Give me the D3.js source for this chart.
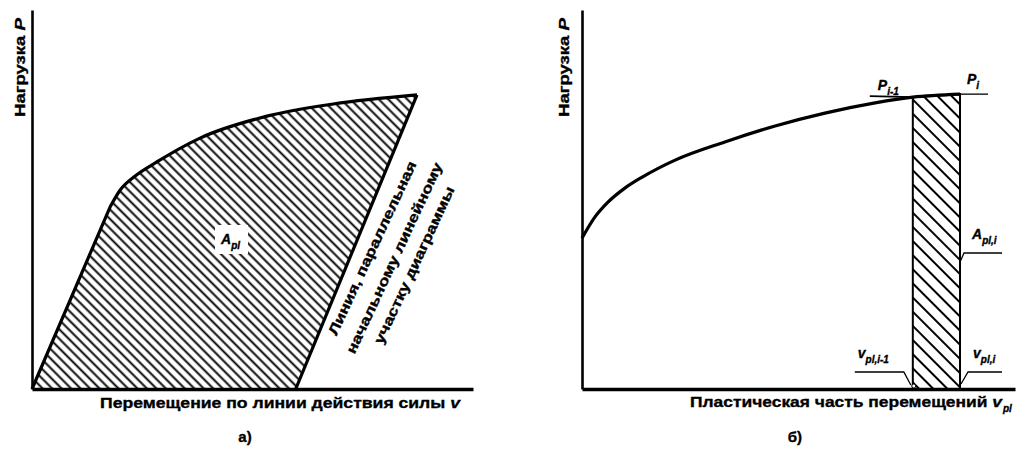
<!DOCTYPE html>
<html>
<head>
<meta charset="utf-8">
<script src="https://cdn.jsdelivr.net/npm/d3@7"></script>
<style>
  html, body { margin: 0; padding: 0; background: #fff; }
  svg { display: block; }
  text { font-family: "Liberation Sans", Arial, sans-serif; font-weight: bold; fill: #000;
         stroke: #000; stroke-width: 0.35px; }
</style>
</head>
<body>
<svg id="chart" width="1020" height="456"></svg>
<script>
// Panel a: full loading curve and unloading line (displacement v, load P)
// the first two points bound the initial linear part of the diagram
const loadV = [0, 17.7, 20.0, 23.4, 28.3, 38.1, 53.3, 68.3, 87.3];
const loadP = [0, 48.0, 52.5, 56.2, 59.9, 66.2, 72.0, 75.2, 77.6];
const unloadV = [87.3, 59.8];
const unloadP = [77.6, 0];

// Panel b: load versus plastic part of displacement
const plasticV = [0, 3.0, 6.0, 9.9, 13.9, 21.5, 33.0, 44.6, 56.1, 67.7, 76.4, 87.3];
const plasticP = [39.8, 45.4, 49.3, 53.0, 55.9, 60.4, 65.2, 69.4, 72.8, 75.5, 77.0, 77.8];
const stepIndex = [10, 11]; // points i-1 and i

// Texts
const yTitle = "Нагрузка ";
const xTitleA = "Перемещение по линии действия силы ";
const xTitleB = "Пластическая часть перемещений ";
const noteLines = ["Линия, параллельная", "начальному линейному", "участку диаграммы"];
const panelTags = ["а)", "б)"];

const svg = d3.select("#chart");
const defs = svg.append("defs");

function hatch(id, gap, width) {
  const p = defs.append("pattern")
    .attr("id", id)
    .attr("patternUnits", "userSpaceOnUse")
    .attr("width", 40).attr("height", gap)
    .attr("patternTransform", "rotate(45)");
  p.append("line")
    .attr("x1", 0).attr("x2", 40)
    .attr("y1", gap / 2).attr("y2", gap / 2)
    .attr("stroke", "#000").attr("stroke-width", width);
}
hatch("hatchA", 6.7, 1.7);
hatch("hatchB", 10, 2);

const yScale = d3.scaleLinear().domain([0, 100]).range([389, 10]);

// ---------- Panel a ----------
const xA = d3.scaleLinear().domain([0, 100]).range([32, 473]);
const gA = svg.append("g");

const loadPts = loadV.map((v, i) => [v, loadP[i]]);
const unloadPts = unloadV.map((v, i) => [v, unloadP[i]]);

const curve = d3.line().x(d => xA(d[0])).y(d => yScale(d[1])).curve(d3.curveMonotoneX);
const straight = d3.line().x(d => xA(d[0])).y(d => yScale(d[1]));
// straight initial part, then the smooth hardening part
const loadPath = straight(loadPts.slice(0, 2)) + curve(loadPts.slice(1)).replace(/^M/, "L");

// hatched area enclosed by the loading curve and the unloading line
gA.append("path")
  .attr("d", loadPath + straight(unloadPts).replace(/^M/, "L") + "Z")
  .attr("fill", "url(#hatchA)").attr("stroke", "none");

// white patch behind the area label
gA.append("rect")
  .attr("x", 215).attr("y", 225).attr("width", 33).attr("height", 29)
  .attr("fill", "#fff");

gA.append("path").attr("d", loadPath)
  .attr("fill", "none").attr("stroke", "#000").attr("stroke-width", 3.2)
  .attr("stroke-linejoin", "round");
gA.append("path").attr("d", straight(unloadPts))
  .attr("fill", "none").attr("stroke", "#000").attr("stroke-width", 3.2);

// axes (domain lines only)
const axA = gA.append("g").attr("transform", `translate(0,${yScale(0)})`)
  .call(d3.axisBottom(xA).ticks(0).tickSizeOuter(0));
axA.select(".domain").attr("stroke-width", 3.5);
const ayA = gA.append("g").attr("transform", `translate(${xA(0)},0)`)
  .call(d3.axisLeft(yScale).ticks(0).tickSizeOuter(0));
ayA.select(".domain").attr("stroke-width", 2.6);

// area label A_pl
const lblA = gA.append("text").attr("x", 221).attr("y", 244).style("font-size", "14px");
lblA.append("tspan").style("font-style", "italic").text("A");
lblA.append("tspan").attr("dy", 5).style("font-size", "10px").style("font-style", "italic").text("pl");

// note along the unloading line
const noteCenters = [[372, 248], [394, 258], [414, 265]];
const noteLens = [190, 209, 172];
noteLines.forEach((t, i) => {
  gA.append("text")
    .attr("transform", `translate(${noteCenters[i][0]},${noteCenters[i][1]}) rotate(-65)`)
    .attr("text-anchor", "middle").attr("dy", "0.36em")
    .attr("textLength", noteLens[i]).attr("lengthAdjust", "spacingAndGlyphs")
    .style("font-size", "14px").text(t);
});

// axis titles
const ytA = gA.append("text")
  .attr("transform", "translate(25,117) rotate(-90)")
  .attr("textLength", 99).attr("lengthAdjust", "spacingAndGlyphs")
  .style("font-size", "15px");
ytA.append("tspan").text(yTitle);
ytA.append("tspan").style("font-style", "italic").text("P");

const xtA = gA.append("text").attr("x", 100).attr("y", 408)
  .attr("textLength", 360).attr("lengthAdjust", "spacingAndGlyphs")
  .style("font-size", "15px");
xtA.append("tspan").text(xTitleA);
xtA.append("tspan").style("font-style", "italic").text("v");

gA.append("text").attr("x", 245).attr("y", 442).attr("text-anchor", "middle")
  .style("font-size", "15px").text(panelTags[0]);

// ---------- Panel b ----------
const xB = d3.scaleLinear().domain([0, 100]).range([582, 1015]);
const gB = svg.append("g");
const plPts = plasticV.map((v, i) => [v, plasticP[i]]);
const curveB = d3.line().x(d => xB(d[0])).y(d => yScale(d[1])).curve(d3.curveMonotoneX);

const p0 = plPts[stepIndex[0]], p1 = plPts[stepIndex[1]];
const x0 = xB(p0[0]), x1 = xB(p1[0]), yb = yScale(0);
const y0 = yScale(p0[1]), y1 = yScale(p1[1]);

// hatched strip between v_pl,i-1 and v_pl,i
gB.append("path")
  .attr("d", `M${x0},${yb}L${x0},${y0}L${x1},${y1}L${x1},${yb}Z`)
  .attr("fill", "url(#hatchB)")
  .attr("stroke", "#000").attr("stroke-width", 2);

gB.append("path").attr("d", curveB(plPts))
  .attr("fill", "none").attr("stroke", "#000").attr("stroke-width", 3.2)
  .attr("stroke-linejoin", "round");

const axB = gB.append("g").attr("transform", `translate(0,${yb})`)
  .call(d3.axisBottom(xB).ticks(0).tickSizeOuter(0));
axB.select(".domain").attr("stroke-width", 3.5);
const ayB = gB.append("g").attr("transform", `translate(${xB(0)},0)`)
  .call(d3.axisLeft(yScale).ticks(0).tickSizeOuter(0));
ayB.select(".domain").attr("stroke-width", 2.6);

// leader lines
const lead = (d, w) => gB.append("path").attr("d", d)
  .attr("fill", "none").attr("stroke", "#000").attr("stroke-width", w || 1.3);
lead(`M${x0 - 43},${y0 - 1}L${x0},${y0}`, 1.6);
lead(`M${x1},${y1}L${x1 + 28},${y1}`, 1.3);
lead(`M${x1 + 42},${253}L${x1 + 4},${253}L${x1},${262}`);
lead(`M${x0 - 58},${372}L${x0 - 9},${372}L${x0 - 2},${385}`);
lead(`M${x1 + 42},${372}L${x1 + 8},${372}L${x1 + 1},${384}`);
gB.append("circle").attr("cx", x0 + 1).attr("cy", 386).attr("r", 2)
  .attr("fill", "#fff").attr("stroke", "#000").attr("stroke-width", 1);

function symbol(x, y, main, sub, size) {
  const t = gB.append("text").attr("x", x).attr("y", y).style("font-size", size + "px");
  t.append("tspan").style("font-style", "italic").text(main);
  t.append("tspan").attr("dy", 5).style("font-size", (size - 4) + "px")
    .style("font-style", "italic").text(sub);
  return t;
}
symbol(x0 - 35, y0 - 7, "P", "i-1", 14);
symbol(x1 + 7, y1 - 10, "P", "i", 14);
symbol(x1 + 12, 239, "A", "pl,i", 14);
symbol(x0 - 55, 358, "v", "pl,i-1", 14);
symbol(x1 + 13, 358, "v", "pl,i", 14);

const ytB = gB.append("text")
  .attr("transform", "translate(569,117) rotate(-90)")
  .attr("textLength", 99).attr("lengthAdjust", "spacingAndGlyphs")
  .style("font-size", "15px");
ytB.append("tspan").text(yTitle);
ytB.append("tspan").style("font-style", "italic").text("P");

const xtB = gB.append("text").attr("x", 690).attr("y", 407)
  .attr("textLength", 312).attr("lengthAdjust", "spacingAndGlyphs")
  .style("font-size", "15px");
xtB.append("tspan").text(xTitleB);
xtB.append("tspan").style("font-style", "italic").text("v");
gB.append("text").attr("x", 1003).attr("y", 412)
  .style("font-size", "10px").style("font-style", "italic").text("pl");

gB.append("text").attr("x", 795).attr("y", 442).attr("text-anchor", "middle")
  .style("font-size", "15px").text(panelTags[1]);
</script>
</body>
</html>
